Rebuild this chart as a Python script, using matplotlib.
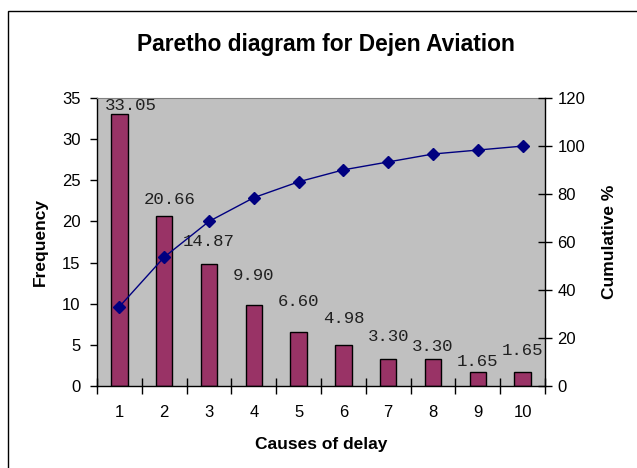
import matplotlib
matplotlib.use("Agg")
import matplotlib.pyplot as plt
from matplotlib.patches import Rectangle
import numpy as np

categories = [1, 2, 3, 4, 5, 6, 7, 8, 9, 10]
frequency = [33.05, 20.66, 14.87, 9.90, 6.60, 4.98, 3.30, 3.30, 1.65, 1.65]
cumulative = [33.05, 53.71, 68.58, 78.48, 85.08, 90.06, 93.36, 96.66, 98.31, 99.96]
bar_labels = ["33.05", "20.66", "14.87", "9.90", "6.60", "4.98", "3.30", "3.30", "1.65", "1.65"]

# label offsets (points) relative to the bar top, as placed in the original
label_dx = [8, 4, 0, 0, 0, 0, 0, 0, 0, 0]
label_dy = [6.5, 12, 16, 21, 22, 19, 16, 9, 8, 16]

plt.rcParams['font.family'] = ['Liberation Sans', 'DejaVu Sans']

W, H = 637, 468
fig = plt.figure(figsize=(W / 100, H / 100), dpi=100)
fig.patch.set_facecolor('white')

# outer chart border (top and left visible)
fig.patches.append(Rectangle((8 / W, -0.1), 2.0, (H - 11) / H + 0.1,
                             transform=fig.transFigure, fill=False,
                             edgecolor='black', linewidth=1.0))

left, right, top, bottom = 97, 545, 98, 386
ax = fig.add_axes([left / W, (H - bottom) / H, (right - left) / W, (bottom - top) / H])
ax.set_facecolor('#C0C0C0')

x = np.arange(len(categories))
ax.bar(x, frequency, width=0.37, color='#993366', edgecolor='black', linewidth=1.0, zorder=2)
ax.set_xlim(-0.5, len(categories) - 0.5)
ax.set_ylim(0, 35)
ax.set_yticks(np.arange(0, 36, 5))

for i, (v, lab) in enumerate(zip(frequency, bar_labels)):
    ax.annotate(lab, (x[i], v), xytext=(label_dx[i], label_dy[i]), textcoords='offset points',
                ha='center', va='center', family='Liberation Mono', fontsize=12.5,
                color='#202020', zorder=5)

# x ticks between categories, labels at centers
ax.set_xticks(np.arange(-0.5, len(categories), 1.0))
ax.set_xticklabels([])
ax.set_xticks(x, minor=True)
ax.set_xticklabels([str(c) for c in categories], minor=True)
ax.tick_params(axis='x', which='major', direction='inout', length=11, width=1, color='black')
ax.tick_params(axis='x', which='minor', length=0, pad=14, labelsize=12)
ax.tick_params(axis='y', direction='out', length=5, width=1, labelsize=12, pad=7)

for s in ['left', 'bottom']:
    ax.spines[s].set_color('black')
    ax.spines[s].set_linewidth(1.0)
ax.spines['top'].set_color('#808080')
ax.spines['top'].set_linewidth(0.8)
ax.spines['right'].set_visible(False)

ax.set_xlabel('Causes of delay', fontsize=12.5, fontweight='bold', labelpad=12)
ax.set_ylabel('Frequency', fontsize=12.5, fontweight='bold', labelpad=10)

ax2 = ax.twinx()
ax2.plot(x, cumulative, color='#000080', marker='D', markersize=6, linewidth=1.0, zorder=4)
ax2.set_ylim(0, 120)
ax2.set_yticks(np.arange(0, 121, 20))
ax2.tick_params(axis='y', direction='inout', length=10, width=1, labelsize=12, pad=4)
ax2.spines['right'].set_color('black')
ax2.spines['right'].set_linewidth(1.0)
ax2.spines['top'].set_visible(False)
ax2.spines['left'].set_visible(False)
ax2.spines['bottom'].set_visible(False)
ax2.set_ylabel('Cumulative %', fontsize=12.5, fontweight='bold', labelpad=12)

fig.text(326 / W, (H - 45) / H, 'Paretho diagram for Dejen Aviation',
         ha='center', va='center', fontsize=16.4, fontweight='bold')

fig.savefig('out.png', dpi=100, facecolor='white')
